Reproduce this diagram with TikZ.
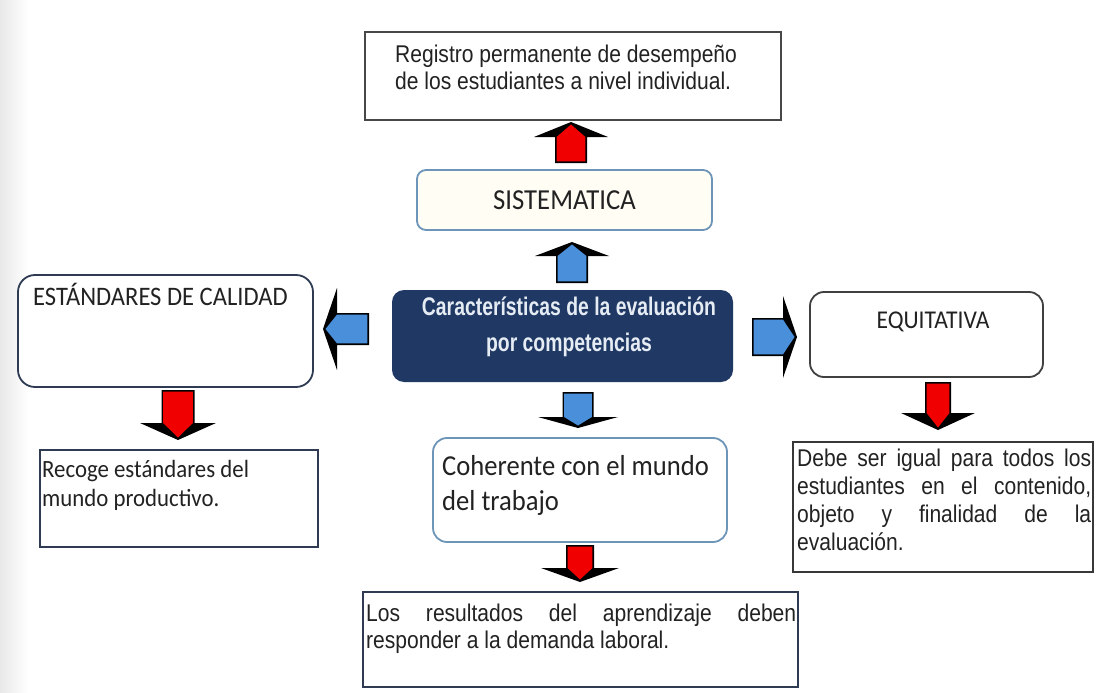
\documentclass[tikz,border=0pt]{standalone}
\usepackage{fontspec}
\setmainfont[FakeStretch=0.87]{Liberation Sans}
\newfontfamily\calfont[FakeStretch=0.92]{Carlito}
\newfontfamily\narrowb[FakeStretch=0.76]{Liberation Sans Bold}
\usetikzlibrary{calc}
\definecolor{navy}{HTML}{1F3864}
\definecolor{steel}{HTML}{6C95B8}
\definecolor{txt}{HTML}{222222}
\definecolor{ablue}{HTML}{4A8FDA}
\definecolor{ared}{HTML}{F00000}
\definecolor{darkb}{HTML}{2E3B52}
\definecolor{cream}{HTML}{FFFDF4}
\definecolor{lighttxt}{HTML}{E6ECF3}
\newcommand\barrow[7]{%
  \begin{scope}[shift={#2},rotate=#3]
  \fill[black] (0,-#5) -- ({#4-#7},-#5) -- ({#4-#7},-#6) -- (#4,0) -- ({#4-#7},#6) -- ({#4-#7},#5) -- (0,#5) -- cycle;
  \fill[#1] (1.6,{-#5+1.6}) -- ({#4-#7},{-#5+1.6}) -- ({#4-2.5},0) -- ({#4-#7},{#5-1.6}) -- (1.6,{#5-1.6}) -- cycle;
  \end{scope}}
\tikzset{
  sqbox/.style={draw=#1, line width=1.6pt, fill=white, inner sep=0pt, outer sep=0pt},
  rbox/.style={draw=#1, line width=1.8pt, fill=white, rounded corners=14pt, inner sep=0pt, outer sep=0pt},
  arialtxt/.style={text=txt, inner sep=0pt, font=\fontsize{24.2}{27}\selectfont},
  caltxt/.style={text=txt, inner sep=0pt, font=\calfont\fontsize{#1}{#1}\selectfont},
}
\begin{document}
\begin{tikzpicture}[x=1pt,y=-1pt]
\useasboundingbox (0,0) rectangle (1096,693);
\fill[white] (0,0) rectangle (1096,693);
\shade[left color=black!9, right color=white] (0,0) rectangle (28,693);

% boxes
\node[sqbox=black!72, minimum width=416pt, minimum height=88pt] (reg) at (573,76) {};
\node[rbox=steel, fill=cream, rounded corners=9pt, minimum width=295pt, minimum height=60pt] (sis) at (564.5,200) {};
\node[fill=navy, rounded corners=12pt, minimum width=341pt, minimum height=92pt, inner sep=0pt, outer sep=0pt] (cen) at (562.5,336) {};
\node[rbox=darkb, rounded corners=17pt, minimum width=295pt, minimum height=112pt] (est) at (165.5,331) {};
\node[sqbox=darkb, line width=2pt, minimum width=278pt, minimum height=97pt] (rec) at (179,498.5) {};
\node[rbox=black!75, minimum width=233pt, minimum height=85pt] (equ) at (926.5,334.5) {};
\node[sqbox=black!78, minimum width=300pt, minimum height=130pt] (deb) at (943,507) {};
\node[rbox=steel, minimum width=294pt, minimum height=104pt] (coh) at (580,490) {};
\node[sqbox=darkb, line width=2pt, minimum width=435pt, minimum height=95pt] (los) at (580.5,639.5) {};

% texts
\node[arialtxt, anchor=north west, align=left] (regt) at (395,45)
  {Registro permanente de desempeño\\de los estudiantes a nivel individual.};
\node[caltxt=29] (sist) at (sis.center) {SISTEMATICA};
\node[text=lighttxt, inner sep=0pt, align=center, font=\narrowb\fontsize{25.5}{36}\selectfont] (cent) at (569,327)
  {Características de la evaluación\\por competencias};
\node[caltxt=26.7, anchor=base west] (estt) at (33,305) {ESTÁNDARES DE CALIDAD};
\node[caltxt=25.6, anchor=base] (equt) at (933,328) {EQUITATIVA};
\node[text=txt, inner sep=0pt, anchor=north west, align=left, font=\calfont\fontsize{24.8}{29}\selectfont] (rect) at (42,460)
  {Recoge estándares del\\mundo productivo.};
\node[text=txt, inner sep=0pt, anchor=north west, align=left, font=\calfont\fontsize{28.9}{35}\selectfont] (coht) at (442,455)
  {Coherente con el mundo\\del trabajo};
\node[arialtxt, anchor=north west, align=left, font=\fontsize{24.2}{28}\selectfont] (debt) at (797,449)
  {\makebox[294pt][s]{Debe ser igual para todos los}\\\makebox[294pt][s]{estudiantes en el contenido,}\\\makebox[294pt][s]{objeto y finalidad de la}\\evaluación.};
\node[arialtxt, anchor=north west, align=left] (lost) at (366,604)
  {\makebox[430pt][s]{Los resultados del aprendizaje deben}\\responder a la demanda laboral.};

% block arrows
\barrow{ared}{($(sis.north)+(6.5,-7)$)}{90}{41}{16}{37}{15}
\barrow{ablue}{($(cen.north)+(9.5,-7)$)}{90}{41}{16}{37}{14}
\barrow{ablue}{($(cen.south)+(15.5,10)$)}{-90}{36}{15.5}{40}{11}
\barrow{ared}{($(coh.south)+(0,3)$)}{-90}{37}{14}{39}{14}
\barrow{ablue}{($(cen.west)+(-23,-7)$)}{180}{46}{16}{41}{14}
\barrow{ablue}{($(cen.east)+(19,1)$)}{0}{45}{19}{41}{14}
\barrow{ared}{($(est.south)+(12.5,3)$)}{-90}{50}{16.5}{38}{17}
\barrow{ared}{($(equ.south)+(11.5,5)$)}{-90}{48}{13}{37}{17}
\end{tikzpicture}
\end{document}
